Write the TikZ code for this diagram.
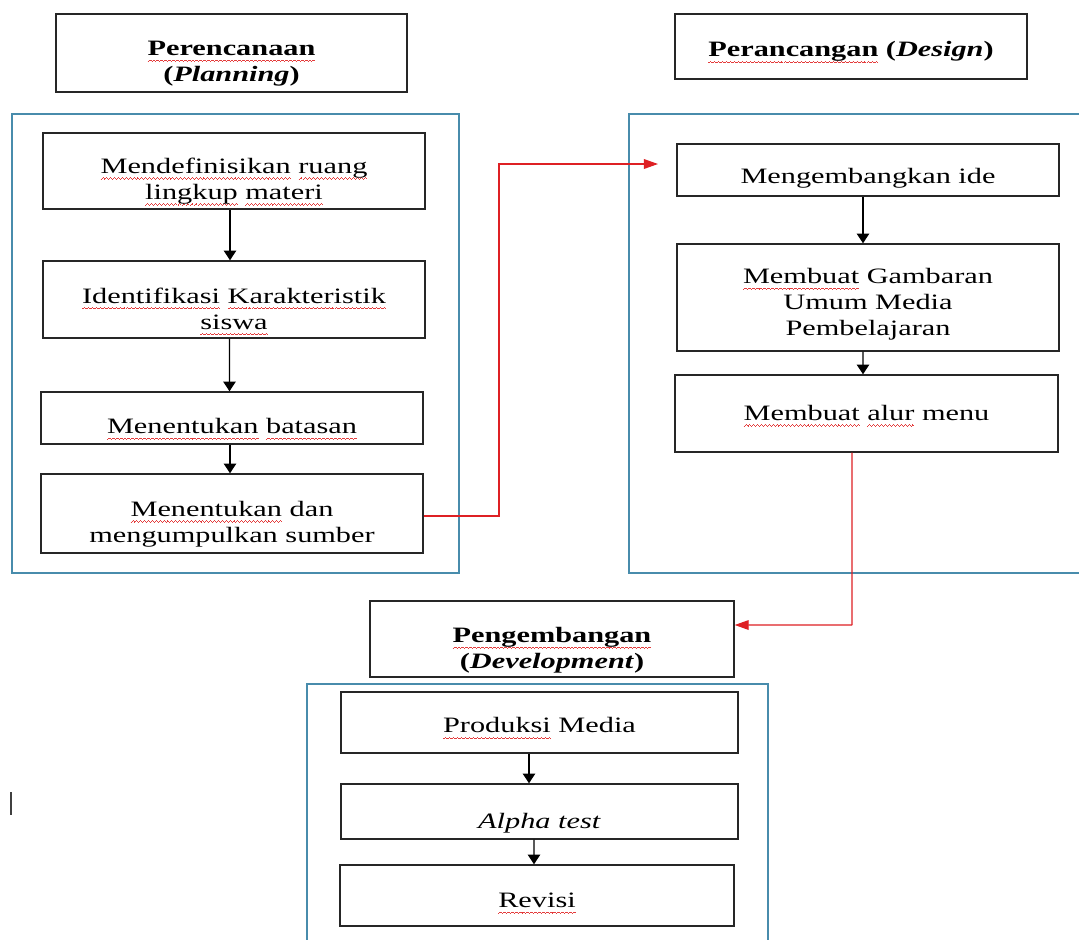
\documentclass[tikz,border=0pt]{standalone}
\usepackage{fontspec}
\setmainfont{Liberation Serif}[FakeStretch=1.38]
\usetikzlibrary{arrows.meta}
\definecolor{spell}{RGB}{228,60,60}
\definecolor{frameblue}{RGB}{72,140,172}
\definecolor{linkred}{RGB}{222,32,36}
\newsavebox\sqbox
\newcommand\wavebit{\hbox{\rule[-3.5pt]{0.55pt}{0.45pt}\rule[-3.1pt]{0.55pt}{0.45pt}\rule[-2.7pt]{0.55pt}{0.45pt}\rule[-3.1pt]{0.55pt}{0.45pt}}}
\newcommand\sq[1]{\sbox\sqbox{#1}\leavevmode\rlap{\color{spell}\hbox to\wd\sqbox{\xleaders\wavebit\hfill}}\usebox\sqbox}
\newcommand\lo[2]{\raisebox{-#1}[\height][\depth]{\begin{tabular}{@{}c@{}}#2\end{tabular}}}
\begin{document}
\begin{tikzpicture}[x=0.02cm,y=-0.02cm,
  box/.style={draw=black!85, line width=0.8pt, align=center, inner sep=0pt,
    font=\fontsize{12.5}{14.8}\selectfont},
  frame/.style={draw=frameblue, line width=0.9pt},
  arr/.style={draw=black, line width=0.8pt, -{Triangle[length=5.5pt,width=7pt]}},
  redarr/.style={draw=linkred, line width=0.7pt, -{Triangle[length=8pt,width=5.5pt]}},
  redline/.style={draw=linkred, line width=0.7pt}]
\useasboundingbox (0,0) rectangle (1079,940);
\fill[white] (0,0) rectangle (1079,940);

% containers
\draw[frame] (12,114) rectangle (459,573);
\draw[frame] (1079,114) -| (629,573) -- (1079,573);
\draw[frame] (307,940) |- (768,684) -- (768,940);

% headers
\node[box, minimum width=7.02cm, minimum height=1.56cm] (hp) at (231.5,53)
  {\lo{6pt}{\textbf{\sq{Perencanaan}}\\\textbf{(\textit{Planning})}}};
\node[box, minimum width=7.04cm, minimum height=1.3cm] (hd) at (851,46.5)
  {\lo{3pt}{\textbf{\sq{Perancangan}} \textbf{(\textit{Design})}}};
\node[box, minimum width=7.28cm, minimum height=1.52cm] (hv) at (552,639)
  {\lo{6.5pt}{\textbf{\sq{Pengembangan}}\\\textbf{(\textit{Development})}}};

% planning column
\node[box, minimum width=7.64cm, minimum height=1.52cm] (b1) at (234,171)
  {\lo{5.7pt}{\sq{Mendefinisikan} \sq{ruang}\\\sq{lingkup} \sq{materi}}};
\node[box, minimum width=7.64cm, minimum height=1.54cm] (b2) at (234,299.5)
  {\lo{6.5pt}{\sq{Identifikasi} \sq{Karakteristik}\\\sq{siswa}}};
\node[box, minimum width=7.64cm, minimum height=1.04cm] (b3) at (232,418)
  {\lo{6pt}{\sq{Menentukan} \sq{batasan}}};
\node[box, minimum width=7.64cm, minimum height=1.58cm] (b4) at (232,513.5)
  {\lo{6pt}{\sq{Menentukan} dan\\mengumpulkan sumber}};

% design column
\node[box, minimum width=7.64cm, minimum height=1.04cm] (d1) at (868,170)
  {\lo{5pt}{Mengembangkan ide}};
\node[box, minimum width=7.64cm, minimum height=2.14cm] (d2) at (868,297.5)
  {\lo{4pt}{\sq{Membuat} Gambaran\\Umum Media\\Pembelajaran}};
\node[box, minimum width=7.66cm, minimum height=1.54cm] (d3) at (866.5,413.5)
  {\lo{1pt}{\sq{Membuat} \sq{alur} menu}};

% development column
\node[box, minimum width=7.94cm, minimum height=1.22cm] (p1) at (539.5,722.5)
  {\lo{3pt}{\sq{Produksi} Media}};
\node[box, minimum width=7.94cm, minimum height=1.1cm] (p2) at (539.5,811.5)
  {\lo{6.5pt}{\textit{Alpha test}}};
\node[box, minimum width=7.88cm, minimum height=1.22cm] (p3) at (537,895.5)
  {\lo{4pt}{\sq{Revisi}}};

% black arrows
\draw[arr] ([xshift=-0.08cm]b1.south) -- ([xshift=-0.08cm]b2.north);
\draw[arr] ([xshift=-0.09cm]b2.south) -- ([xshift=-0.05cm]b3.north);
\draw[arr] ([xshift=-0.04cm]b3.south) -- ([xshift=-0.04cm]b4.north);
\draw[arr] ([xshift=-0.1cm]d1.south) -- ([xshift=-0.1cm]d2.north);
\draw[arr] ([xshift=-0.1cm]d2.south) -- ([xshift=-0.07cm]d3.north);
\draw[arr] ([xshift=-0.21cm]p1.south) -- ([xshift=-0.21cm]p2.north);
\draw[arr] ([xshift=-0.11cm]p2.south) -- ([xshift=-0.06cm]p3.north);

% red connectors
\coordinate (rc) at (499,164);
\coordinate (rt) at (658,164);
\draw[redarr] ([yshift=-0.05cm]b4.east) -| (rc) -- (rt);
\coordinate (rd) at (852,625);
\draw[redline] ([xshift=-0.29cm]d3.south) -- (rd);
\draw[redarr] (rd) -- ([yshift=0.28cm]hv.east);

% text cursor
\draw[black!75, line width=0.6pt] (11,792) -- (11,815);
\end{tikzpicture}
\end{document}
